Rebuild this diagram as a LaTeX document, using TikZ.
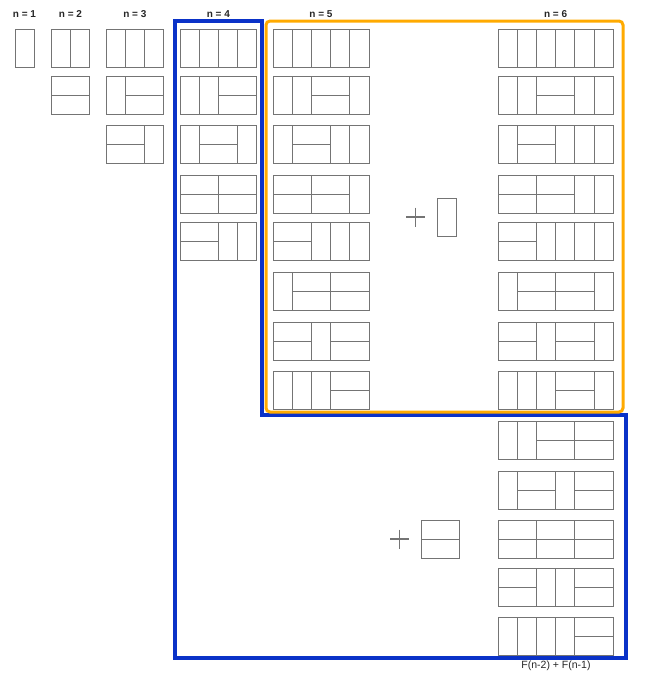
\documentclass[tikz,border=0pt]{standalone}
\usepackage{fontspec}
\setmainfont{Liberation Sans}
\definecolor{tilegray}{HTML}{747474}
\definecolor{bluebox}{HTML}{0A32C8}
\definecolor{orangebox}{HTML}{FFAA00}
\newcount\tcol
\newcommand\tiling[3]{%
  \global\tcol=0
  \foreach \t in {#3}{%
    \pgfmathsetmacro\xx{#1+\the\tcol*19.2}%
    \ifnum\t=1
      \draw[tile] (\xx,#2) rectangle +(19.2,38);
    \else
      \draw[tile] (\xx,#2) rectangle +(38.4,38);
      \draw[tile] (\xx,#2+19) -- +(38.4,0);
    \fi
    \global\advance\tcol by \t\relax
  }}
\begin{document}
\begin{tikzpicture}[x=1pt,y=-1pt,
  tile/.style={draw=tilegray,line width=1pt},
  plus/.style={draw=tilegray,line width=1.3pt},
  lbl/.style={text=black!85,font=\bfseries\fontsize{10}{12}\selectfont,inner sep=0pt},
  flbl/.style={text=black!85,font=\fontsize{10.5}{12}\selectfont,inner sep=0pt}]
\useasboundingbox (0,0) rectangle (659,691);
% boxes
\draw[bluebox,line width=4pt,line join=miter] (175,21) -- (262,21) -- (262,415) -- (626,415) -- (626,658) -- (175,658) -- cycle;
\draw[orangebox,line width=3pt,rounded corners=4pt] (266,21) rectangle (623,412);
% labels
\node[lbl] (l1) at (24.5,14) {n = 1};
\node[lbl] (l2) at (70.5,14) {n = 2};
\node[lbl] (l3) at (134.8,14) {n = 3};
\node[lbl] (l4) at (218.4,14) {n = 4};
\node[lbl] (l5) at (321,14) {n = 5};
\node[lbl] (l6) at (555.6,14) {n = 6};
\node[flbl] (f) at (556,666) {F(n-2) + F(n-1)};
% n = 1
\tiling{15}{29}{1}
% n = 2
\tiling{51}{29}{1,1}
\tiling{51}{76}{2}
% n = 3
\tiling{106}{29}{1,1,1}
\tiling{106}{76}{1,2}
\tiling{106}{125}{2,1}
% n = 4
\tiling{180}{29}{1,1,1,1}
\tiling{180}{76}{1,1,2}
\tiling{180}{125}{1,2,1}
\tiling{180}{175}{2,2}
\tiling{180}{222}{2,1,1}
% n = 5
\tiling{273}{29}{1,1,1,1,1}
\tiling{273}{76}{1,1,2,1}
\tiling{273}{125}{1,2,1,1}
\tiling{273}{175}{2,2,1}
\tiling{273}{222}{2,1,1,1}
\tiling{273}{272}{1,2,2}
\tiling{273}{322}{2,1,2}
\tiling{273}{371}{1,1,1,2}
% n = 6
\tiling{498}{29}{1,1,1,1,1,1}
\tiling{498}{76}{1,1,2,1,1}
\tiling{498}{125}{1,2,1,1,1}
\tiling{498}{175}{2,2,1,1}
\tiling{498}{222}{2,1,1,1,1}
\tiling{498}{272}{1,2,2,1}
\tiling{498}{322}{2,1,2,1}
\tiling{498}{371}{1,1,1,2,1}
\tiling{498}{421}{1,1,2,2}
\tiling{498}{471}{1,2,1,2}
\tiling{498}{520}{2,2,2}
\tiling{498}{568}{2,1,1,2}
\tiling{498}{617}{1,1,1,1,2}
% plus signs and added pieces
\draw[plus] (406,217) -- (425,217) (415.5,207.5) -- (415.5,226.5);
\tiling{437}{198}{1}
\draw[plus] (390,539) -- (409,539) (399.5,529.5) -- (399.5,548.5);
\tiling{421}{520}{2}
\end{tikzpicture}
\end{document}
